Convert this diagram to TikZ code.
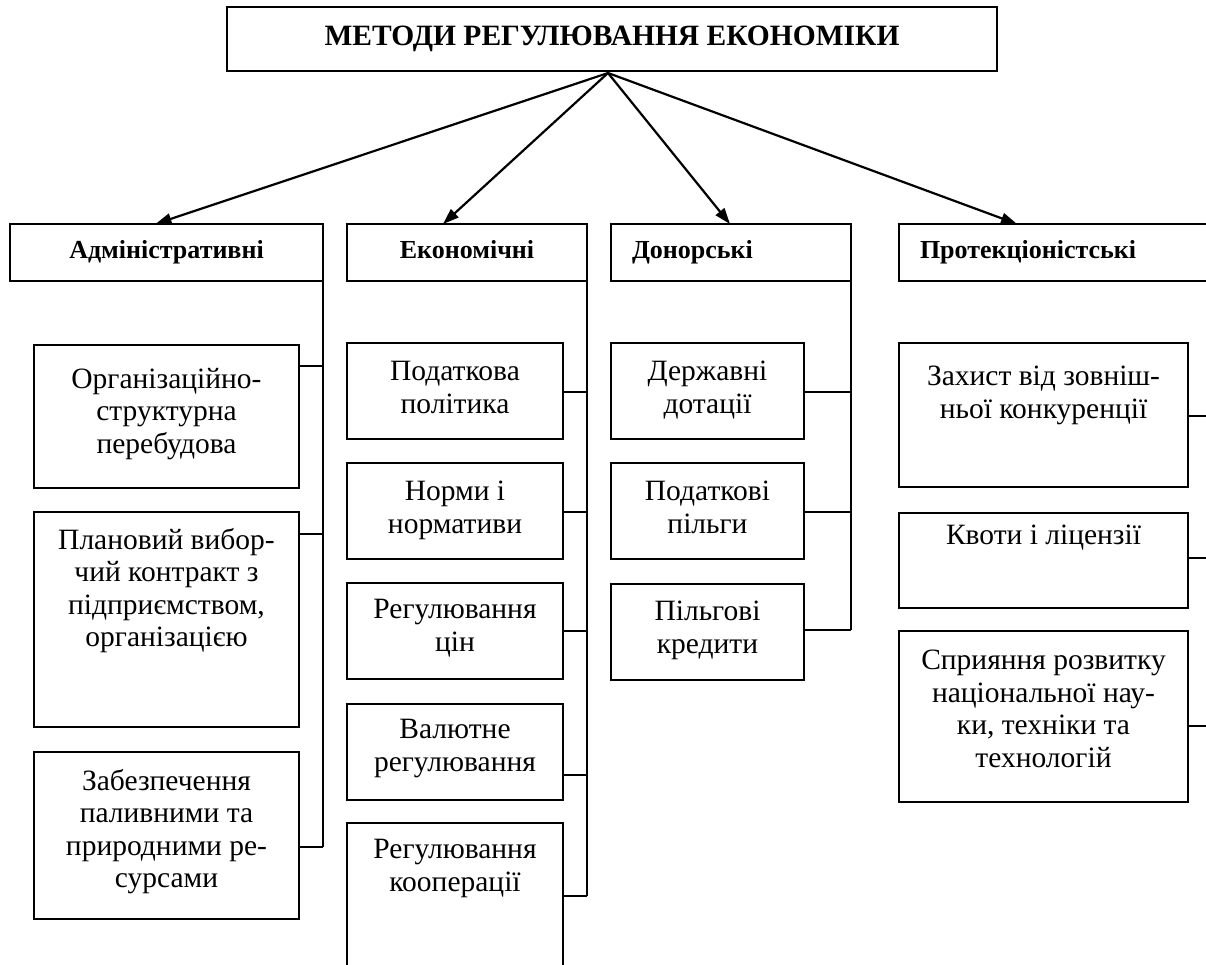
\documentclass[tikz,border=0pt]{standalone}
\usepackage{fontspec}
\setmainfont{Liberation Serif}
\usetikzlibrary{arrows.meta,calc}
\begin{document}
\begin{tikzpicture}[x=1pt,y=-1pt,
  rbox/.style={draw,line width=2pt,inner sep=0pt,outer sep=0pt,anchor=north west},
  cat/.style={rbox,minimum height=57pt,text height=19pt,text depth=6pt,font=\fontsize{26}{28}\selectfont\bfseries},
  txt/.style={align=center,inner sep=0pt,anchor=north,font=\fontsize{29.5}{32.5}\selectfont},
  arr/.style={line width=2.2pt,-{Triangle[length=16pt,width=11pt]}},
  ln/.style={line width=2pt}]
\useasboundingbox (0,0) rectangle (1206,965);
\fill[white] (0,0) rectangle (1206,965);
% title
\node[rbox,minimum width=770pt,minimum height=64pt,font=\fontsize{29.5}{31}\selectfont\bfseries] (title) at (227,7) {МЕТОДИ РЕГУЛЮВАННЯ ЕКОНОМІКИ};
% categories
\node[cat,minimum width=313pt] (adm) at (10,224) {Адміністративні};
\node[cat,minimum width=240pt] (eco) at (347,224) {Економічні};
\node[cat,minimum width=240pt,text width=198pt,inner xsep=21pt,align=left] (don) at (611,224) {Донорські};
\node[cat,minimum width=316pt,text width=274pt,inner xsep=21pt,align=left] (pro) at (899,224) {Протекціоністські};
% arrows
\coordinate (src) at ($(title.south)+(-4,2)$);
\draw[arr] (src) -- ($(adm.north)+(-11,0)$);
\draw[arr] (src) -- ($(eco.north)+(-24,0)$);
\draw[arr] (src) -- ($(don.north)+(-1,0)$);
\draw[arr] (src) -- ($(pro.north west)+(118,0)$);
% administrative sub-boxes
\node[rbox,minimum width=265pt,minimum height=143pt] (a1) at (34,345) {};
\node[rbox,minimum width=265pt,minimum height=215pt] (a2) at (34,512) {};
\node[rbox,minimum width=265pt,minimum height=167pt] (a3) at (34,752) {};
\node[txt] (a1t) at ($(a1.north)+(0,23)$) {Організаційно-\\структурна\\перебудова};
\node[txt] (a2t) at ($(a2.north)+(0,16)$) {Плановий вибор-\\чий контракт з\\підприємством,\\організацією};
\node[txt] (a3t) at ($(a3.north)+(0,17)$) {Забезпечення\\паливними та\\природними ре-\\сурсами};
% economic sub-boxes
\node[rbox,minimum width=216pt,minimum height=96pt] (e1) at (347,343) {};
\node[rbox,minimum width=216pt,minimum height=96pt] (e2) at (347,463) {};
\node[rbox,minimum width=216pt,minimum height=96pt] (e3) at (347,583) {};
\node[rbox,minimum width=216pt,minimum height=96pt] (e4) at (347,704) {};
\node[rbox,minimum width=216pt,minimum height=180pt] (e5) at (347,823) {};
\node[txt] (e1t) at ($(e1.north)+(0,18)$) {Податкова\\політика};
\node[txt] (e2t) at ($(e2.north)+(0,18)$) {Норми і\\нормативи};
\node[txt] (e3t) at ($(e3.north)+(0,16)$) {Регулювання\\цін};
\node[txt] (e4t) at ($(e4.north)+(0,15)$) {Валютне\\регулювання};
\node[txt] (e5t) at ($(e5.north)+(0,16)$) {Регулювання\\кооперації};
% donor sub-boxes
\node[rbox,minimum width=193pt,minimum height=96pt] (d1) at (611,343) {};
\node[rbox,minimum width=193pt,minimum height=96pt] (d2) at (611,463) {};
\node[rbox,minimum width=193pt,minimum height=96pt] (d3) at (611,584) {};
\node[txt] (d1t) at ($(d1.north)+(0,18)$) {Державні\\дотації};
\node[txt] (d2t) at ($(d2.north)+(0,18)$) {Податкові\\пільги};
\node[txt] (d3t) at ($(d3.north)+(0,17)$) {Пільгові\\кредити};
% protection sub-boxes
\node[rbox,minimum width=289pt,minimum height=144pt] (p1) at (899,343) {};
\node[rbox,minimum width=289pt,minimum height=95pt] (p2) at (899,513) {};
\node[rbox,minimum width=289pt,minimum height=171pt] (p3) at (899,631) {};
\node[txt] (p1t) at ($(p1.north)+(0,23)$) {Захист від зовніш-\\ньої конкуренції};
\node[txt] (p2t) at ($(p2.north)+(0,12)$) {Квоти і ліцензії};
\node[txt] (p3t) at ($(p3.north)+(0,19)$) {Сприяння розвитку\\національної нау-\\ки, техніки та\\технологій};
% stub points
\coordinate (a1s) at ($(a1.north east)+(0,21)$);
\coordinate (a2s) at ($(a2.north east)+(0,22)$);
\coordinate (a3s) at ($(a3.north east)+(0,95)$);
\coordinate (e1s) at ($(e1.north east)+(0,49)$);
\coordinate (e2s) at ($(e2.north east)+(0,49)$);
\coordinate (e3s) at ($(e3.north east)+(0,48)$);
\coordinate (e4s) at ($(e4.north east)+(0,71)$);
\coordinate (e5s) at ($(e5.north east)+(0,73)$);
\coordinate (d1s) at ($(d1.north east)+(0,49)$);
\coordinate (d2s) at ($(d2.north east)+(0,49)$);
\coordinate (d3s) at ($(d3.north east)+(0,46)$);
\coordinate (p1s) at ($(p1.north east)+(0,73)$);
\coordinate (p2s) at ($(p2.north east)+(0,45)$);
\coordinate (p3s) at ($(p3.north east)+(0,95)$);
% spines and stubs
\draw[ln] (adm.south east) -- (adm.south east |- a3s);
\foreach \s in {a1s,a2s,a3s} \draw[ln] (\s) -- (\s -| adm.south east);
\draw[ln] (eco.south east) -- (eco.south east |- e5s);
\foreach \s in {e1s,e2s,e3s,e4s,e5s} \draw[ln] (\s) -- (\s -| eco.south east);
\draw[ln] (don.south east) -- (don.south east |- d3s);
\foreach \s in {d1s,d2s,d3s} \draw[ln] (\s) -- (\s -| don.south east);
\foreach \s in {p1s,p2s,p3s} \draw[ln] (\s) -- (\s -| pro.south east);
\end{tikzpicture}
\end{document}
